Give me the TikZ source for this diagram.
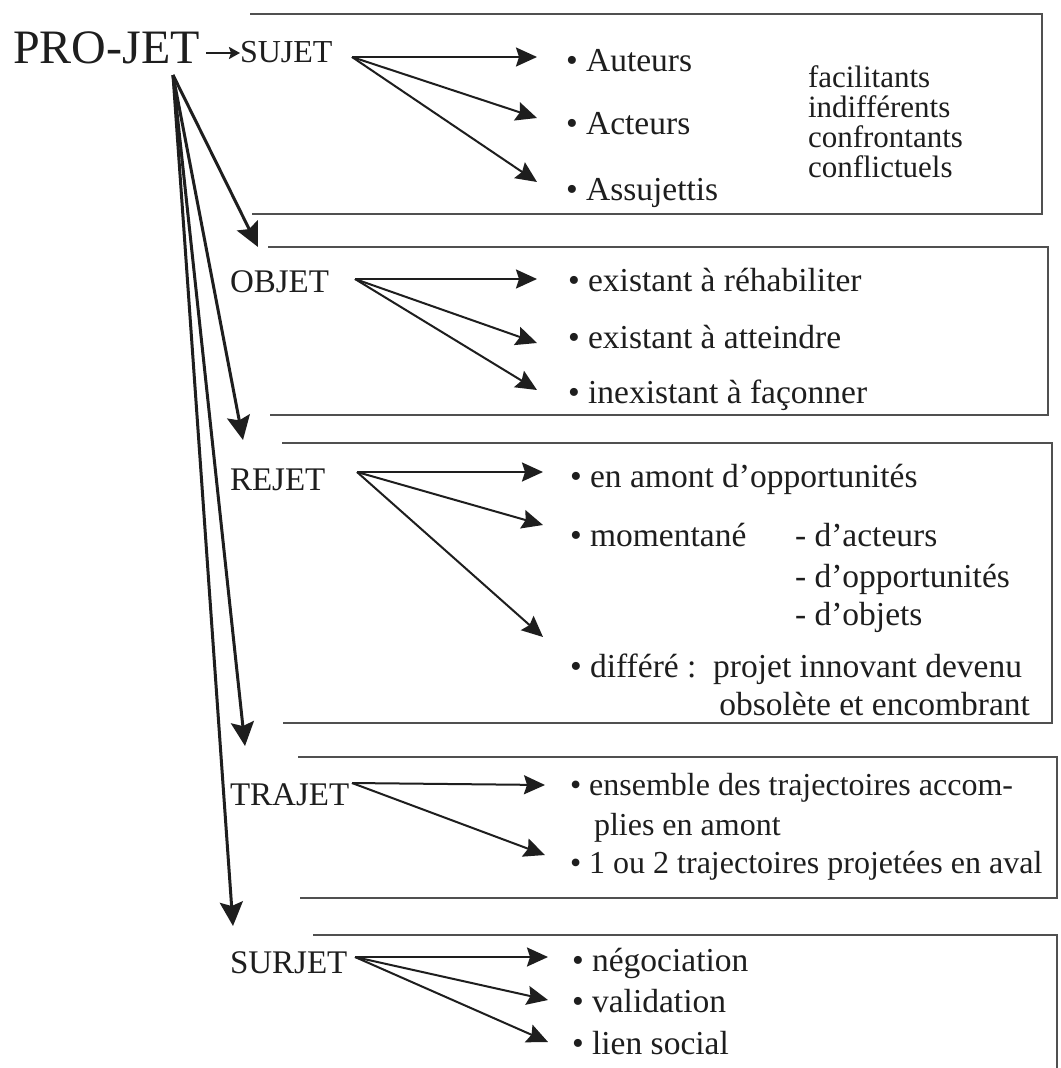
\documentclass[tikz,border=0pt]{standalone}
\usepackage{fontspec}
\setmainfont{Liberation Serif}
\usetikzlibrary{arrows.meta}
\definecolor{ink}{HTML}{1E1E1E}
\definecolor{boxgray}{HTML}{505050}
\begin{document}
\begin{tikzpicture}[x=1pt,y=-1pt,
  every node/.style={inner sep=0pt, outer sep=0pt, text=ink},
  title/.style={font=\fontsize{48}{48}\selectfont, anchor=base west},
  lab/.style={font=\fontsize{33}{33}\selectfont, anchor=base west},
  item/.style={font=\fontsize{33.5}{33.5}\selectfont, anchor=base west},
  itemr/.style={font=\fontsize{33.5}{33.5}\selectfont, anchor=base east},
  itemt/.style={font=\fontsize{32}{32}\selectfont, anchor=base west},
  note/.style={font=\fontsize{31}{31}\selectfont, anchor=base west},
  boxline/.style={draw=boxgray, line width=2.5pt},
  arr/.style={draw=ink, line width=2pt, -{Stealth[length=21pt,width=19pt,inset=3pt]}},
  fan/.style={draw=ink, line width=3pt, -{Stealth[length=24pt,width=23pt,inset=4pt]}},
  small/.style={draw=ink, line width=2.5pt, -{Stealth[length=11pt,width=12pt,inset=2pt]}},
]
\fill[white] (0,0) rectangle (1060,1068);
\useasboundingbox (0,0) rectangle (1060,1068);

% boxes (open on the left)
\draw[boxline] (250,14) -- (1042,14) -- (1042,214) -- (252,214);
\draw[boxline] (268,247) -- (1048,247) -- (1048,415) -- (270,415);
\draw[boxline] (282,443) -- (1052,443) -- (1052,723) -- (283,723);
\draw[boxline] (298,757) -- (1057,757) -- (1057,898) -- (300,898);
\draw[boxline] (313,935) -- (1057,935) -- (1057,1070);

% titles
\node[title] (projet) at (13,63) {PRO-JET};
\node[lab, font=\fontsize{32}{32}\selectfont] (sujet) at (240,62) {SUJET};
\coordinate (pa) at (206,53);
\draw[small] (pa) -- (sujet.west |- pa);
\node[lab] (objet) at (230,292) {OBJET};
\node[lab] (rejet) at (230,490) {REJET};
\node[lab] (trajet) at (230,805) {TRAJET};
\node[lab] (surjet) at (230,973) {SURJET};

% main fan
\coordinate (fo) at (173,75);
\coordinate (fobj) at (258,247);
\coordinate (frej) at (243,440);
\coordinate (ftra) at (245,746);
\coordinate (fsur) at (233,926);
\draw[fan] (fo) -- (fobj);
\draw[fan] (fo) -- (frej);
\draw[fan] (fo) -- (ftra);
\draw[fan] (fo) -- (fsur);

% SUJET
\node[item] (s1) at (566,71) {• Auteurs};
\node[item] (s2) at (566,134) {• Acteurs};
\node[item] (s3) at (566,200) {• Assujettis};
\node[note] (f1) at (808,87) {facilitants};
\node[note] (f2) at (808,117) {indifférents};
\node[note] (f3) at (808,147) {confrontants};
\node[note] (f4) at (808,177) {conflictuels};
\coordinate (so) at (352,57);
\coordinate (st1) at (537,57);
\coordinate (st2) at (537,118);
\coordinate (st3) at (537,182);
\draw[arr] (so) -- (st1);
\draw[arr] (so) -- (st2);
\draw[arr] (so) -- (st3);

% OBJET
\node[item] (o1) at (568,291) {• existant à réhabiliter};
\node[item] (o2) at (568,348) {• existant à atteindre};
\node[item] (o3) at (568,403) {• inexistant à façonner};
\coordinate (oo) at (355,279);
\coordinate (ot1) at (537,279);
\coordinate (ot2) at (537,343);
\coordinate (ot3) at (537,390);
\draw[arr] (oo) -- (ot1);
\draw[arr] (oo) -- (ot2);
\draw[arr] (oo) -- (ot3);

% REJET
\node[item] (r1) at (570,487) {• en amont d'opportunités};
\node[item] (r2) at (570,546) {• momentané};
\node[item] (r2a) at (795,546) {- d'acteurs};
\node[item] (r2b) at (795,587) {- d'opportunités};
\node[item] (r2c) at (795,625) {- d'objets};
\node[item] (r3) at (570,677) {• différé :\ \ projet innovant devenu};
\node[itemr] (r3b) at (1030,715) {obsolète et encombrant};
\coordinate (ro) at (357,472);
\coordinate (rt1) at (543,472);
\coordinate (rt2) at (543,525);
\coordinate (rt3) at (543,637);
\draw[arr] (ro) -- (rt1);
\draw[arr] (ro) -- (rt2);
\draw[arr] (ro) -- (rt3);

% TRAJET
\node[itemt] (t1) at (570,795) {• ensemble des trajectoires accom-};
\node[itemt] (t1b) at (594,835) {plies en amont};
\node[itemt] (t2) at (570,873) {• 1 ou 2 trajectoires projetées en aval};
\coordinate (to) at (352,783);
\coordinate (tt1) at (545,785);
\coordinate (tt2) at (545,855);
\draw[arr] (to) -- (tt1);
\draw[arr] (to) -- (tt2);

% SURJET
\node[item] (u1) at (572,971) {• négociation};
\node[item] (u2) at (572,1012) {• validation};
\node[item] (u3) at (572,1054) {• lien social};
\coordinate (uo) at (355,957);
\coordinate (ut1) at (548,957);
\coordinate (ut2) at (548,1000);
\coordinate (ut3) at (548,1042);
\draw[arr] (uo) -- (ut1);
\draw[arr] (uo) -- (ut2);
\draw[arr] (uo) -- (ut3);
\end{tikzpicture}
\end{document}
